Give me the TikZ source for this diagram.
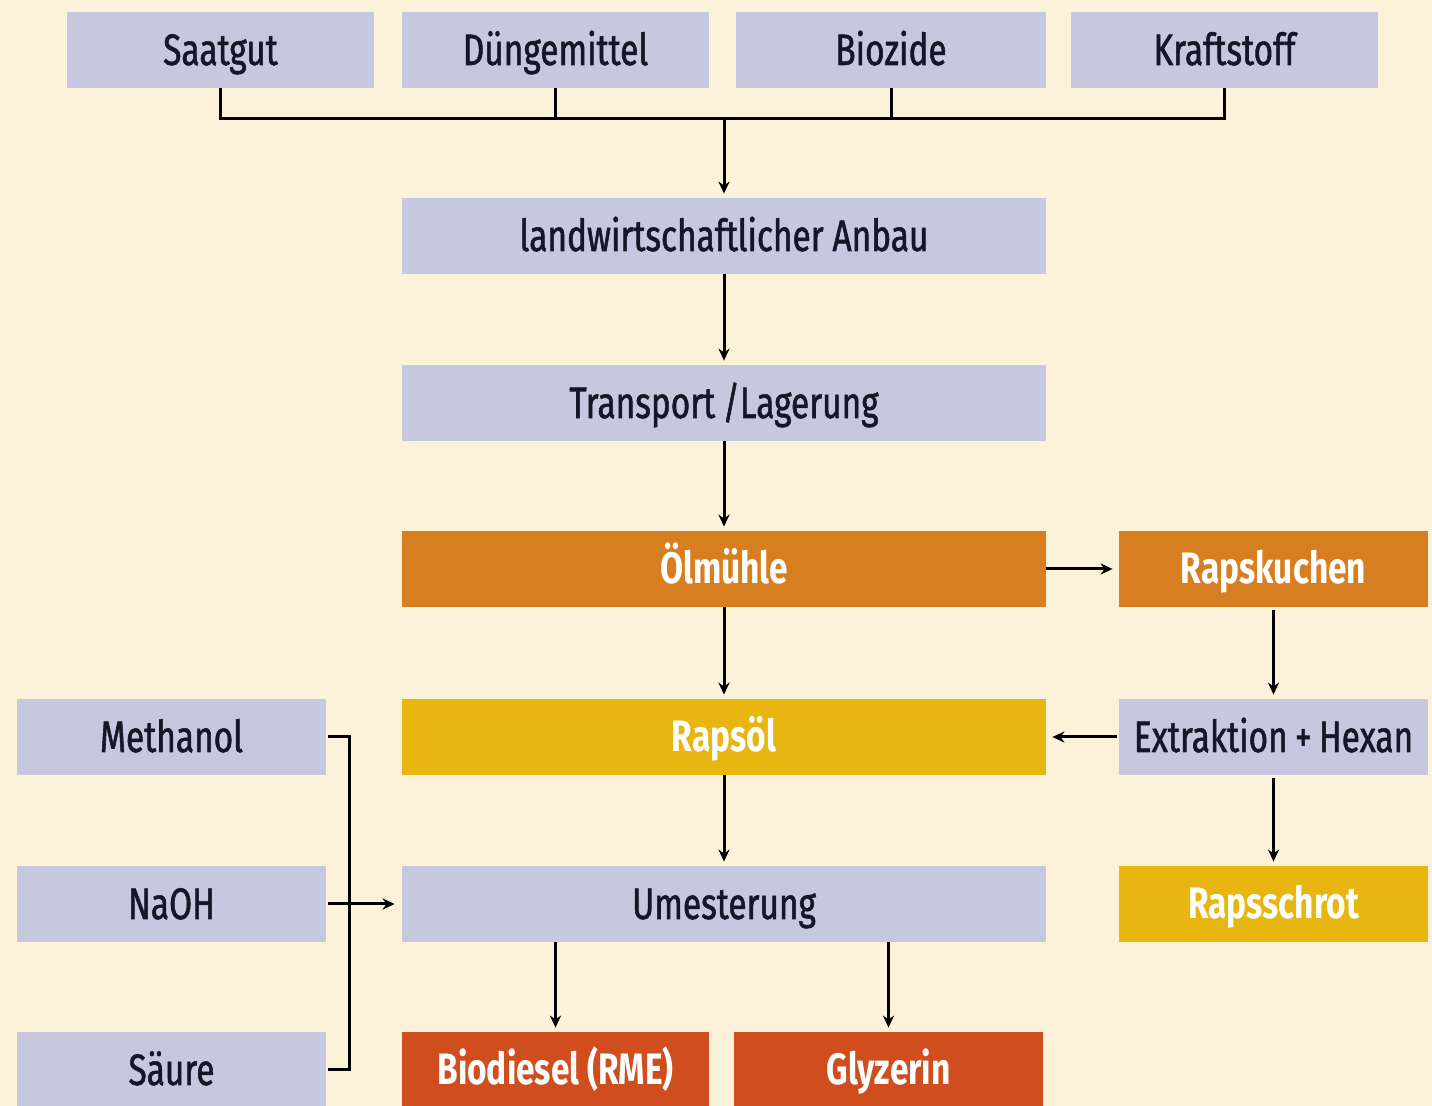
\documentclass[tikz,border=0pt]{standalone}
\usepackage{fontspec}
\setmainfont{Fira Sans}[FakeStretch=0.76]
\newfontfamily\medf{Fira Sans}[FakeStretch=0.76, FakeBold=1.2]
\usetikzlibrary{arrows.meta}
\definecolor{bgc}{RGB}{252,242,218}
\definecolor{lav}{RGB}{197,200,222}
\definecolor{orng}{RGB}{215,127,32}
\definecolor{yell}{RGB}{232,182,16}
\definecolor{redo}{RGB}{208,78,30}
\definecolor{txtd}{RGB}{22,22,38}
\tikzset{
  box/.style={rectangle, inner sep=0pt, minimum height=38pt, minimum width=153.5pt,
    text height=15pt, text depth=0pt},
  wide/.style={minimum width=322pt},
  lbox/.style={box, fill=lav, text=txtd, font=\fontsize{22}{26}\selectfont\medf},
  wbox/.style={box, text=white, font=\fontsize{22}{26}\selectfont\bfseries},
  obox/.style={wbox, fill=orng},
  ybox/.style={wbox, fill=yell},
  rbox/.style={wbox, fill=redo},
  conn/.style={line width=1.5pt, draw=black},
  arr/.style={conn, -{Stealth[length=6pt,width=5.5pt]}},
}
\begin{document}
\begin{tikzpicture}[x=0.5pt,y=-0.5pt]
\useasboundingbox[fill=bgc] (0,0) rectangle (1432,1106);
% top row
\node[lbox] (saat) at (220.5,50) {Saatgut};
\node[lbox] (dung) at (555.5,50) {Düngemittel};
\node[lbox, minimum width=155pt] (bioz) at (891,50) {Biozide};
\node[lbox] (kraft) at (1224.5,50) {Kraftstoff};
% main column
\node[lbox, wide] (anbau) at (724,236) {landwirtschaftlicher Anbau};
\node[lbox, wide] (trans) at (724,403) {Transport\,/Lagerung};
\node[obox, wide] (oel) at (724,569) {Ölmühle};
\node[ybox, wide] (raps) at (724,737) {Rapsöl};
\node[lbox, wide] (umes) at (724,904) {Umesterung};
% right column
\node[obox, minimum width=154.5pt] (kuchen) at (1273.5,569) {Rapskuchen};
\node[lbox, minimum width=154.5pt] (extr) at (1273.5,737) {Extraktion\,+\,Hexan};
\node[ybox, minimum width=154.5pt] (schrot) at (1273.5,904) {Rapsschrot};
% left column
\node[lbox, minimum width=154.5pt] (meth) at (171.5,737) {Methanol};
\node[lbox, minimum width=154.5pt] (naoh) at (171.5,904) {NaOH};
\node[lbox, minimum width=154.5pt] (saeure) at (171.5,1070) {Säure};
% products
\node[rbox] (bio) at (555.5,1070) {Biodiesel (RME)};
\node[rbox, minimum width=154.5pt] (gly) at (888.5,1070) {Glyzerin};
% connectors top
\coordinate (j) at (724,119);
\draw[conn] (saat.south) |- (kraft.south |- j) -- (kraft.south);
\draw[conn] (dung.south) -- (dung.south |- j);
\draw[conn] (bioz.south) -- (bioz.south |- j);
\draw[arr, shorten >=2pt] (j) -- (anbau.north);
% main column arrows
\draw[arr, shorten >=2pt] (anbau.south) -- (trans.north);
\draw[arr, shorten >=2pt] (trans.south) -- (oel.north);
\draw[arr, shorten >=2pt] (oel.south) -- (raps.north);
\draw[arr, shorten >=2pt] (raps.south) -- (umes.north);
% right side
\draw[arr, shorten >=3pt] (oel.east) -- (kuchen.west);
\draw[arr, shorten >=2pt, shorten <=1.5pt] (kuchen.south) -- (extr.north);
\draw[arr, shorten >=3pt, shorten <=1pt] (extr.west) -- (raps.east);
\draw[arr, shorten >=2pt, shorten <=1.5pt] (extr.south) -- (schrot.north);
% products
\draw[arr, shorten >=2pt] (umes.south -| bio.north) -- (bio.north);
\draw[arr, shorten >=2pt] (umes.south -| gly.north) -- (gly.north);
% left bracket
\coordinate (br) at (349,904);
\draw[conn] ([xshift=1pt]meth.east) -| (br |- saeure.east) -- ([xshift=1pt]saeure.east);
\draw[arr, shorten >=3.5pt] ([xshift=1pt]naoh.east) -- (umes.west);
\end{tikzpicture}
\end{document}
